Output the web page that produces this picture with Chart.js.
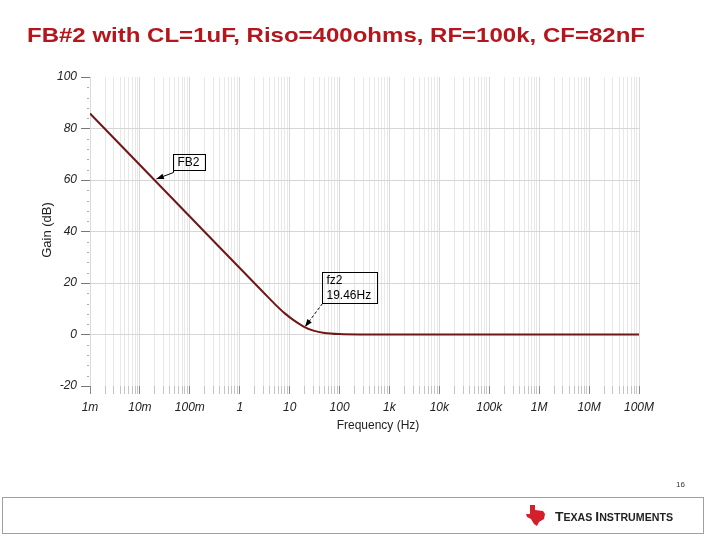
<!DOCTYPE html>
<html>
<head>
<meta charset="utf-8">
<script src="https://cdn.jsdelivr.net/npm/chart.js@4/dist/chart.umd.min.js"></script>
<style>
  html, body { margin: 0; padding: 0; background: #fff; }
  #wrap { width: 720px; height: 540px; }
</style>
</head>
<body>
<div id="wrap"><canvas id="bode" width="720" height="540"></canvas></div>
<script>
// values
const freqHz  = [0.001, 0.01, 0.1, 1, 3, 5, 8, 12, 19.46, 30, 50, 100, 300, 1000, 1e5, 1e8];
const gainDb  = [85.8, 65.8, 45.8, 25.8, 16.3, 11.9, 8.2, 5.6, 3.0, 1.5, 0.6, 0.16, 0.02, 0, 0, 0];
const decadeLabels = ['1m', '10m', '100m', '1', '10', '100', '1k', '10k', '100k', '1M', '10M', '100M'];
const yTicks = [-20, 0, 20, 40, 60, 80, 100];
const titleText = 'FB#2 with CL=1uF, Riso=400ohms, RF=100k, CF=82nF';
const fb2Label = 'FB2';
const fzLabel = ['fz2', '19.46Hz'];
const fzMarker = { f: 19.46, g: 3.0 };
const fbMarker = { f: 0.0195, g: 60 };

const FONT = '"Liberation Sans", Arial, sans-serif';

function arrowTo(ctx, x0, y0, x1, y1, dashed) {
    ctx.save();
    ctx.strokeStyle = '#000';
    ctx.fillStyle = '#000';
    ctx.lineWidth = 1;
    if (dashed) ctx.setLineDash([3, 2]);
    ctx.beginPath();
    ctx.moveTo(x0, y0);
    ctx.lineTo(x1, y1);
    ctx.stroke();
    ctx.setLineDash([]);
    const a = Math.atan2(y1 - y0, x1 - x0);
    ctx.beginPath();
    ctx.moveTo(x1, y1);
    ctx.lineTo(x1 - 8 * Math.cos(a - 0.35), y1 - 8 * Math.sin(a - 0.35));
    ctx.lineTo(x1 - 8 * Math.cos(a + 0.35), y1 - 8 * Math.sin(a + 0.35));
    ctx.closePath();
    ctx.fill();
    ctx.restore();
}

const decor = {
    id: 'decor',
    afterDraw(chart) {
        const ctx = chart.ctx;
        const xs = chart.scales.x, ys = chart.scales.y;
        const area = chart.chartArea;
        ctx.save();

        // title
        ctx.font = 'bold 21px ' + FONT;
        ctx.fillStyle = '#b5161d';
        ctx.textBaseline = 'alphabetic';
        const tw = ctx.measureText(titleText).width;
        ctx.save();
        ctx.translate(27, 42);
        ctx.scale(618 / tw, 1);
        ctx.fillText(titleText, 0, 0);
        ctx.restore();

        // minor y ticks
        ctx.strokeStyle = '#aaa';
        ctx.lineWidth = 1;
        for (let v = -16; v < 100; v += 4) {
            if (v % 20 === 0) continue;
            const y = Math.round(ys.getPixelForValue(v)) + 0.5;
            ctx.beginPath();
            ctx.moveTo(area.left - 3, y);
            ctx.lineTo(area.left - 1, y);
            ctx.stroke();
        }

        // axis titles
        ctx.fillStyle = '#222';
        ctx.font = '12px ' + FONT;
        ctx.textAlign = 'center';
        ctx.textBaseline = 'middle';
        ctx.fillText('Frequency (Hz)', 378, 426);
        ctx.save();
        ctx.translate(47, 230);
        ctx.rotate(-Math.PI / 2);
        ctx.font = '13px ' + FONT;
        ctx.fillText('Gain (dB)', 0, 0);
        ctx.restore();

        // FB2 annotation
        const p1x = xs.getPixelForValue(fbMarker.f), p1y = ys.getPixelForValue(fbMarker.g);
        const b1 = { x: Math.round(p1x) + 19.5, y: Math.round(p1y) - 25.5, w: 32, h: 16 };
        ctx.strokeStyle = '#000';
        ctx.strokeRect(b1.x, b1.y, b1.w, b1.h);
        ctx.beginPath();
        ctx.moveTo(b1.x, b1.y + b1.h);
        ctx.lineTo(b1.x, b1.y + b1.h + 2);
        ctx.stroke();
        arrowTo(ctx, b1.x, b1.y + b1.h + 2, p1x + 2, p1y - 1, false);
        ctx.fillStyle = '#000';
        ctx.textAlign = 'left';
        ctx.font = '12px ' + FONT;
        ctx.fillText(fb2Label, b1.x + 4, b1.y + 8);

        // fz2 annotation
        const p2x = xs.getPixelForValue(fzMarker.f), p2y = ys.getPixelForValue(fzMarker.g);
        const b2 = { x: Math.round(p2x) + 18.5, y: Math.round(p2y) - 54.5, w: 55, h: 31 };
        ctx.strokeRect(b2.x, b2.y, b2.w, b2.h);
        arrowTo(ctx, b2.x, b2.y + b2.h, p2x + 1, p2y, true);
        ctx.fillStyle = '#000';
        ctx.fillText(fzLabel[0], b2.x + 4, b2.y + 8);
        ctx.fillText(fzLabel[1], b2.x + 4, b2.y + 23);

        // page number and footer
        ctx.font = '8px ' + FONT;
        ctx.fillStyle = '#333';
        ctx.fillText('16', 676, 485);
        ctx.strokeStyle = '#a0a0a0';
        ctx.strokeRect(2.5, 497.5, 701, 36);

        // TI logo mark
        ctx.fillStyle = '#d3202a';
        ctx.beginPath();
        const lx = 526, ly = 505;
        const pts = [[4,0],[9,0],[9,5],[17,6],[19,9],[18,14],[13,17],[11,21],[8,19],[5,14],[1,12],[0,9],[4,9]];
        pts.forEach((p, i) => i ? ctx.lineTo(lx + p[0], ly + p[1]) : ctx.moveTo(lx + p[0], ly + p[1]));
        ctx.closePath();
        ctx.fill();

        // TI wordmark in small caps
        ctx.fillStyle = '#222';
        ctx.textBaseline = 'alphabetic';
        const parts = [['T', 13], ['EXAS ', 10], ['I', 13], ['NSTRUMENTS', 10]];
        let total = 0;
        parts.forEach(p => { ctx.font = 'bold ' + p[1] + 'px ' + FONT; total += ctx.measureText(p[0]).width; });
        ctx.save();
        ctx.translate(555, 521);
        ctx.scale(118 / total, 1);
        let cx = 0;
        parts.forEach(p => {
            ctx.font = 'bold ' + p[1] + 'px ' + FONT;
            ctx.fillText(p[0], cx, 0);
            cx += ctx.measureText(p[0]).width;
        });
        ctx.restore();

        ctx.restore();
    }
};

function isDecade(v) {
    const l = Math.log10(v);
    return Math.abs(l - Math.round(l)) < 1e-6;
}

new Chart(document.getElementById('bode'), {
    type: 'line',
    data: {
        datasets: [{
            data: freqHz.map((f, i) => ({ x: f, y: gainDb[i] })),
            borderColor: '#701616',
            borderWidth: 2,
            pointRadius: 0,
            cubicInterpolationMode: 'monotone',
            fill: false
        }]
    },
    options: {
        responsive: false,
        animation: false,
        layout: { padding: { left: 0, right: 81, top: 77, bottom: 94 } },
        plugins: { legend: { display: false }, tooltip: { enabled: false }, title: { display: false } },
        scales: {
            x: {
                type: 'logarithmic',
                min: 1e-3,
                max: 1e8,
                afterBuildTicks(scale) {
                    const t = [];
                    for (let k = -3; k < 8; k++) {
                        for (let d = 1; d <= 9; d++) t.push({ value: d * Math.pow(10, k) });
                    }
                    t.push({ value: 1e8 });
                    scale.ticks = t;
                },
                afterFit(scale) { scale.height = 60; },
                border: { display: false },
                grid: {
                    color: ctx => isDecade(ctx.tick.value) ? '#dadada' : '#e8e8e8',
                    tickColor: ctx => isDecade(ctx.tick.value) ? '#888' : '#c4c4c4',
                    tickLength: 8,
                    lineWidth: 1,
                    borderDash: [1, 2]
                },
                ticks: {
                    autoSkip: false,
                    maxRotation: 0,
                    padding: 6,
                    color: '#222',
                    font: { family: FONT, size: 12, style: 'italic' },
                    callback: (value) => {
                        if (!isDecade(value)) return '';
                        return decadeLabels[Math.round(Math.log10(value)) + 3];
                    }
                }
            },
            y: {
                min: -20,
                max: 100,
                afterBuildTicks(scale) { scale.ticks = yTicks.map(v => ({ value: v })); },
                afterFit(scale) { scale.width = 90; },
                border: { display: false },
                grid: {
                    color: ctx => (ctx.tick.value === 100 || ctx.tick.value === -20) ? 'rgba(0,0,0,0)' : '#d6d6d6',
                    tickColor: '#777',
                    tickLength: 9,
                    borderDash: [1, 2]
                },
                ticks: {
                    padding: 4,
                    color: '#222',
                    font: { family: FONT, size: 12, style: 'italic' }
                }
            }
        }
    },
    plugins: [decor]
});
</script>
</body>
</html>
